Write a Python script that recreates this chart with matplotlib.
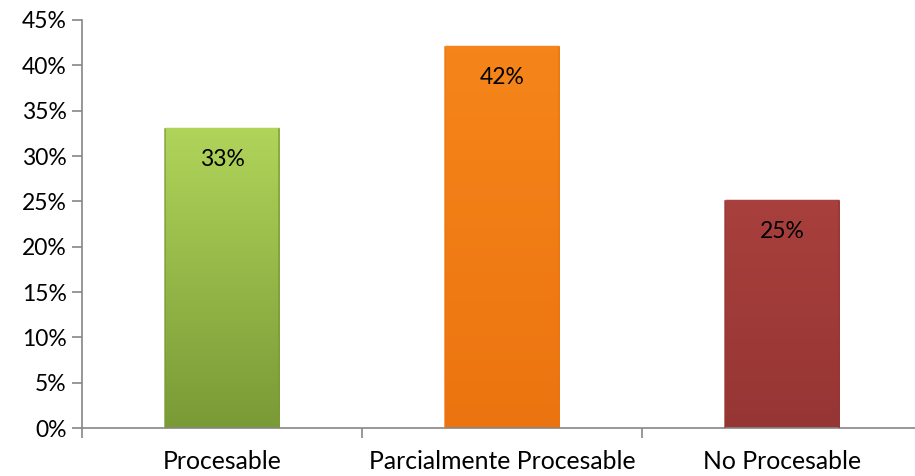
import matplotlib
matplotlib.use("Agg")
import matplotlib.pyplot as plt
import numpy as np
from matplotlib.colors import LinearSegmentedColormap

plt.rcParams["font.family"] = ["Lato", "DejaVu Sans"]

# Datos
categorias = ["Procesable", "Parcialmente Procesable", "No Procesable"]
valores = [33, 42, 25]
colores_top = ["#b0d45a", "#f5851a", "#a8403d"]
colores_bot = ["#7a9a36", "#ec7410", "#963634"]
etiquetas = ["33%", "42%", "25%"]

fig = plt.figure(figsize=(9.15, 4.76), dpi=100)
ax = fig.add_axes([0.0896, 0.1008, 0.9104, 0.8572])

x = np.arange(len(categorias))
ancho = 0.41
barras = ax.bar(x, valores, width=ancho, color="none", edgecolor="none", zorder=2)

# relleno con degradado y borde biselado
grad = np.linspace(0, 1, 100).reshape(-1, 1)
for b, ct, cb in zip(barras, colores_top, colores_bot):
    x0, w, h = b.get_x(), b.get_width(), b.get_height()
    cmap = LinearSegmentedColormap.from_list("g", [cb, ct])
    im = ax.imshow(grad, extent=[x0, x0 + w, 0, h], origin="lower", aspect="auto",
                   cmap=cmap, zorder=2)
    im.set_clip_path(b)
    ax.plot([x0, x0 + w], [h, h], color=ct, lw=2.5, zorder=3, solid_capstyle="butt")
    ax.plot([x0, x0], [0, h], color=cb, lw=1.2, alpha=0.8, zorder=3)
    ax.plot([x0 + w, x0 + w], [0, h], color=cb, lw=1.2, alpha=0.8, zorder=3)

for xi, v, t in zip(x, valores, etiquetas):
    ax.annotate(t, (xi, v), xytext=(0, -22), textcoords="offset points",
                ha="center", va="center", fontsize=16.5, color="black", zorder=4)

# configurar ejes
ax.set_xlim(-0.5, 2.475)
ax.set_ylim(0, 45)
ax.set_yticks(np.arange(0, 46, 5))
ax.set_yticklabels([f"{v}%" for v in range(0, 46, 5)], fontsize=16.5)
ax.set_xticks(x)
ax.set_xticklabels(categorias, fontsize=17.8)
ax.set_xticks([-0.5, 0.5, 1.5], minor=True)
ax.tick_params(axis="x", which="major", length=0, pad=16)
ax.tick_params(axis="x", which="minor", length=7, color="#868686", width=1.2)
ax.tick_params(axis="y", length=7, color="#868686", width=1.2, pad=4)

for s in ["top", "right"]:
    ax.spines[s].set_visible(False)
for s in ["left", "bottom"]:
    ax.spines[s].set_color("#868686")
    ax.spines[s].set_linewidth(1.2)

plt.savefig("out.png", dpi=100)
